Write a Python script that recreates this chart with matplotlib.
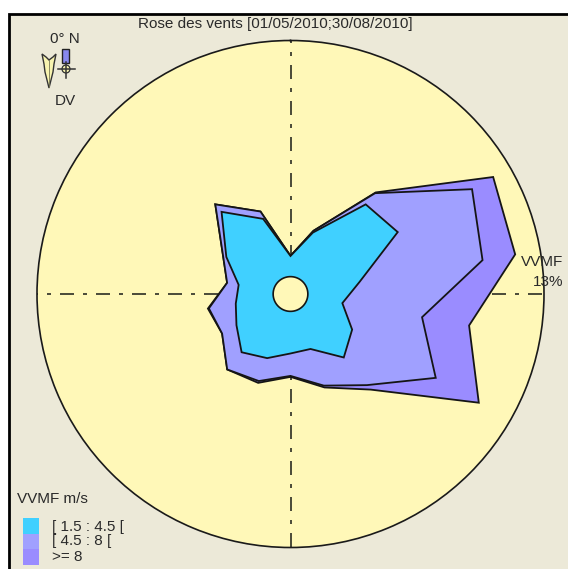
import numpy as np
import matplotlib
matplotlib.use("Agg")
import matplotlib.pyplot as plt
from matplotlib.patches import Rectangle, Polygon

plt.rcParams['font.family'] = ['Liberation Sans', 'DejaVu Sans']

TITLE = "Rose des vents [01/05/2010;30/08/2010]"
DIRECTIONS = list(range(0, 360, 20))
# cumulative frequency (%) per direction
CLASS_1 = [1.95, 3.35, 6.0, 6.35, 3.6, 2.7, 3.65, 4.25, 3.0, 3.05, 3.5, 3.9, 3.2, 2.85, 2.7, 3.8, 5.5, 4.1]
CLASS_2 = [1.95, 3.45, 6.75, 10.75, 10.0, 6.85, 8.6, 6.1, 5.0, 4.2, 4.75, 5.05, 4.05, 4.25, 3.3, 4.0, 6.0, 4.5]
CLASS_3 = [1.95, 3.45, 6.8, 12.0, 11.7, 9.3, 11.15, 6.4, 5.1, 4.25, 4.85, 5.05, 4.05, 4.3, 3.3, 4.0, 6.0, 4.5]
RMAX = 13.0
HOLE = 0.89
LEGEND_LABELS = ["[ 1.5 : 4.5 [", "[ 4.5 : 8 [", ">= 8"]
COLORS = ["#40D0FF", "#A0A0FF", "#9A8CFF"]
BG = "#ECE9D8"; DISC = "#FFF8B8"

W, H = 568, 569
fig = plt.figure(figsize=(W/100, H/100), dpi=100, facecolor="white")

back = fig.add_axes([0, 0, 1, 1], zorder=0)
back.set_xlim(0, W); back.set_ylim(H, 0); back.axis("off")
back.add_patch(Rectangle((9, 14), W, H, fc=BG, ec="black", lw=2))

cx, cy, R = 290.5, 294.0, 253.5
ax = fig.add_axes([(cx-R)/W, 1-(cy+R)/H, 2*R/W, 2*R/H], projection="polar", zorder=1)
ax.set_theta_zero_location("N"); ax.set_theta_direction(-1)
ax.set_ylim(0, RMAX)
ax.set_facecolor(DISC)
ax.grid(False); ax.set_xticks([]); ax.set_yticks([])
ax.spines["polar"].set_linewidth(1.2); ax.spines["polar"].set_color("#1a1a1a")

lw_axis = 1.4
k = 0.72 / lw_axis
for a_from, a_to, off in ((0, 180, 12), (270, 90, 13)):
    ax.plot(np.deg2rad([a_from, a_to]), [RMAX, RMAX], color="#4A4A38", lw=lw_axis,
            ls=(off * k, (14 * k, 9 * k, 4 * k, 9 * k)), dash_capstyle="butt", zorder=1)

th = np.deg2rad(DIRECTIONS + [360])
for vals, col in zip([CLASS_3, CLASS_2, CLASS_1], COLORS[::-1]):
    ax.fill(th, vals + vals[:1], fc=col, ec="#151515", lw=1.3, zorder=2)
t2 = np.linspace(0, 2*np.pi, 100)
ax.fill(t2, np.full(100, HOLE), fc=DISC, ec="#151515", lw=1.2, zorder=3)

top = fig.add_axes([0, 0, 1, 1], zorder=2)
top.set_xlim(0, W); top.set_ylim(H, 0); top.axis("off"); top.patch.set_alpha(0)
fs = 11
tc = "#2a2a2a"
top.text(275.5, 23.5, TITLE, ha="center", va="center", fontsize=fs, color=tc)
top.text(65, 39, "0° N", ha="center", va="center", fontsize=fs, color=tc)
top.text(65.5, 101, "DV", ha="center", va="center", fontsize=fs, color=tc)
top.text(542, 262, "VVMF", ha="center", va="center", fontsize=fs, color=tc)
top.text(548, 282, "13%", ha="center", va="center", fontsize=fs, color=tc)
top.text(17, 499, "VVMF m/s", ha="left", va="center", fontsize=fs, color=tc)
# compass icon
top.add_patch(Polygon([(42,54),(46,57),(49,60),(53,57),(56,54),(54,64),(53,72),(52,76),(49,88),(46,76),(45,72),(44,64)],
                      fc="#F8F4B0", ec="#333333", lw=1.0))
top.plot([49, 49], [60, 87], color="#777755", lw=0.6)
top.add_patch(Rectangle((62, 49), 7, 14, fc="#8888EE", ec="#222222", lw=1.0))
top.add_patch(plt.Circle((66, 69), 4, fc="#F8F4B0", ec="#333333", lw=0.9))
top.plot([58, 75], [69, 69], color="#333333", lw=1.1)
top.plot([66, 66], [62, 78], color="#333333", lw=1.1)
# legend
ys = [518, 533.7, 549.4]
ty = [527, 541, 557]
for y, t, c, l in zip(ys, ty, COLORS, LEGEND_LABELS):
    top.add_patch(Rectangle((22.5, y), 16.5, 15.7, fc=c, ec="none"))
    top.text(52, t, l, ha="left", va="center", fontsize=fs, color=tc)

fig.savefig("out.png", dpi=100, facecolor="white")
